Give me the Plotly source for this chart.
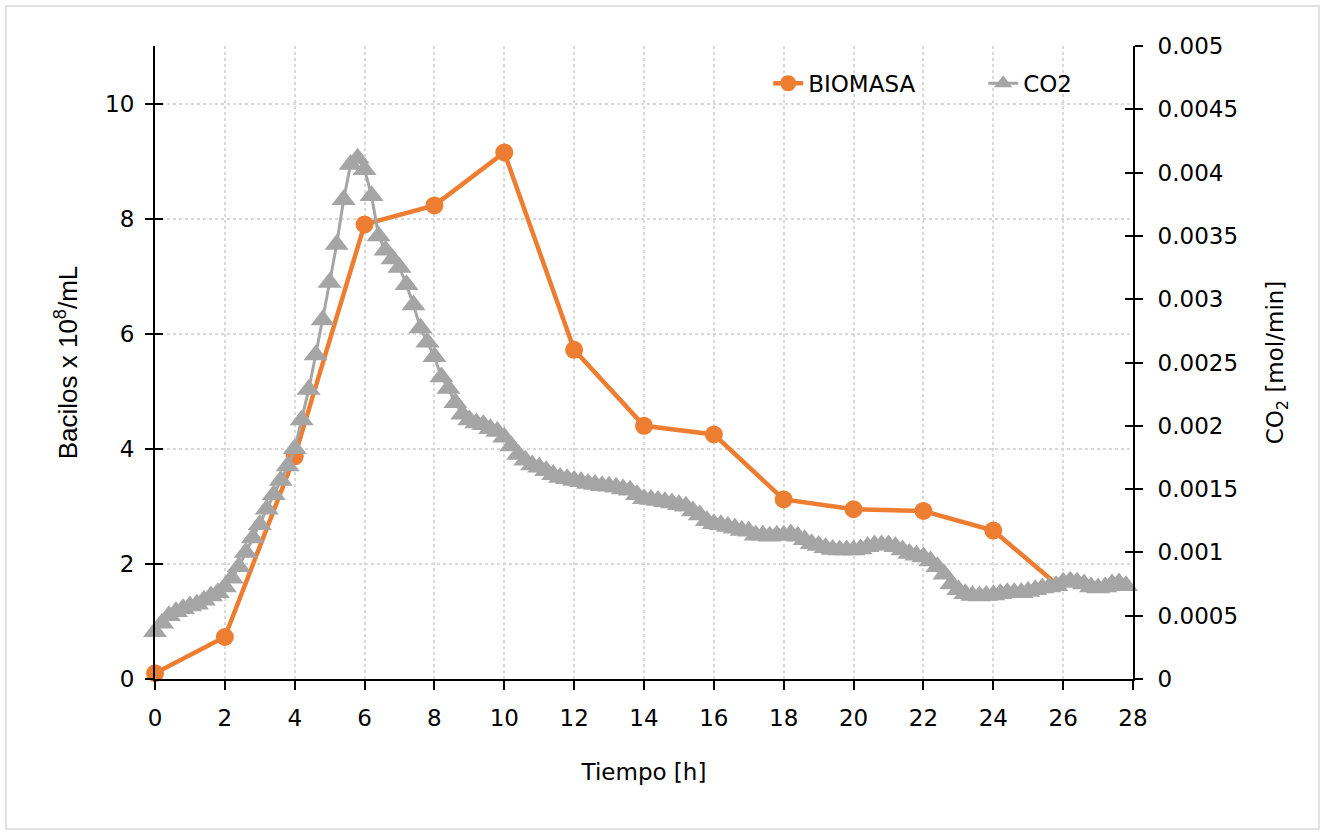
import numpy as np
import plotly.graph_objects as go

# Biomass samples (bacilli x 10^8 per mL)
biomasa_t = [0, 2, 4, 6, 8, 10, 12, 14, 16, 18, 20, 22, 24, 26]
biomasa = [0.10, 0.73, 3.87, 7.90, 8.23, 9.15, 5.72, 4.40, 4.25, 3.12, 2.95, 2.92, 2.58, 1.55]

# CO2 evolution rate (mol/min), logged every 0.2 h
co2_t = np.round(np.arange(0, 27.9, 0.2), 1)
co2 = [
    0.000373, 0.000441, 0.000500, 0.000532, 0.000555,   # 0 h
    0.000577, 0.000591, 0.000623, 0.000655, 0.000682,   # 1 h
    0.000727, 0.000795, 0.000886, 0.001000, 0.001114,   # 2 h
    0.001218, 0.001341, 0.001455, 0.001568, 0.001682,   # 3 h
    0.001818, 0.002045, 0.002286, 0.002559, 0.002836,   # 4 h
    0.003132, 0.003432, 0.003786, 0.004064, 0.004114,   # 5 h
    0.004023, 0.003818, 0.003500, 0.003386, 0.003318,   # 6 h
    0.003250, 0.003114, 0.002955, 0.002773, 0.002659,   # 7 h
    0.002545, 0.002386, 0.002295, 0.002182, 0.002091,   # 8 h
    0.002045, 0.002023, 0.002009, 0.001977, 0.001955,   # 9 h
    0.001909, 0.001841, 0.001773, 0.001727, 0.001691,   # 10 h
    0.001673, 0.001645, 0.001614, 0.001591, 0.001582,   # 11 h
    0.001568, 0.001559, 0.001545, 0.001536, 0.001527,   # 12 h
    0.001523, 0.001514, 0.001500, 0.001491, 0.001455,   # 13 h
    0.001423, 0.001418, 0.001409, 0.001400, 0.001391,   # 14 h
    0.001377, 0.001364, 0.001327, 0.001295, 0.001250,   # 15 h
    0.001227, 0.001218, 0.001205, 0.001191, 0.001173,   # 16 h
    0.001168, 0.001136, 0.001136, 0.001127, 0.001136,   # 17 h
    0.001136, 0.001145, 0.001127, 0.001100, 0.001068,   # 18 h
    0.001055, 0.001036, 0.001023, 0.001018, 0.001018,   # 19 h
    0.001018, 0.001027, 0.001045, 0.001059, 0.001059,   # 20 h
    0.001059, 0.001045, 0.001018, 0.000991, 0.000977,   # 21 h
    0.000964, 0.000932, 0.000886, 0.000827, 0.000750,   # 22 h
    0.000705, 0.000673, 0.000659, 0.000655, 0.000659,   # 23 h
    0.000664, 0.000673, 0.000682, 0.000682, 0.000682,   # 24 h
    0.000691, 0.000705, 0.000718, 0.000727, 0.000736,   # 25 h
    0.000764, 0.000773, 0.000764, 0.000750, 0.000727,   # 26 h
    0.000718, 0.000727, 0.000750, 0.000759, 0.000736,   # 27 h
]

x_ticks = list(range(0, 29, 2))
y_left_ticks = [0, 2, 4, 6, 8, 10]
y_right_ticks = [0, 0.0005, 0.001, 0.0015, 0.002, 0.0025, 0.003, 0.0035, 0.004, 0.0045, 0.005]
y_right_labels = ["0", "0.0005", "0.001", "0.0015", "0.002", "0.0025",
                  "0.003", "0.0035", "0.004", "0.0045", "0.005"]

ORANGE = "#ED7D31"
GRAY = "#A5A5A5"
FONT = "DejaVu Sans"
GRID = "#D9D9D9"

fig = go.Figure()

fig.add_trace(go.Scatter(
    x=co2_t, y=co2, name="CO2", yaxis="y2", mode="lines+markers",
    line=dict(color=GRAY, width=3),
    marker=dict(symbol="triangle-up", size=21, color=GRAY, opacity=1, line=dict(width=0)),
    cliponaxis=False,
))

# last biomass sample is drawn without a dot
bio_sizes = [18] * (len(biomasa) - 1) + [0]
fig.add_trace(go.Scatter(
    x=biomasa_t, y=biomasa, name="BIOMASA", yaxis="y", mode="lines+markers",
    line=dict(color=ORANGE, width=4.5),
    marker=dict(symbol="circle", size=bio_sizes, color=ORANGE, opacity=1, line=dict(width=0)),
    cliponaxis=False,
))

# hidden copies that carry the inner halves of the crossing tick marks
fig.add_trace(go.Scatter(x=biomasa_t, y=biomasa, yaxis="y3", mode="lines",
                         opacity=0, showlegend=False, hoverinfo="skip"))
fig.add_trace(go.Scatter(x=co2_t, y=co2, yaxis="y4", mode="lines",
                         opacity=0, showlegend=False, hoverinfo="skip"))

axis_font = dict(family=FONT, size=23, color="#000000")

fig.update_layout(
    width=1325, height=835,
    margin=dict(l=155, r=192, t=46, b=156),
    paper_bgcolor="white", plot_bgcolor="white",
    font=axis_font,
    showlegend=True,
    legend=dict(orientation="h", x=0.627, y=0.975, xanchor="left", yanchor="top",
                bgcolor="rgba(0,0,0,0)", font=dict(family=FONT, size=23),
                traceorder="reversed", entrywidth=170),
    xaxis=dict(
        range=[0, 28], tickvals=x_ticks, ticks="outside", ticklen=9, tickwidth=2,
        tickcolor="black", showline=True, linecolor="black", linewidth=2,
        showgrid=True, gridcolor=GRID, griddash="dot", gridwidth=1.5,
        zeroline=False, tickfont=axis_font, ticklabelstandoff=8,
        title=dict(text="Tiempo [h]", font=axis_font, standoff=34),
    ),
    yaxis=dict(
        range=[0, 11], tickvals=y_left_ticks, ticks="outside", ticklen=8, tickwidth=2,
        tickcolor="black", showline=True, linecolor="black", linewidth=2,
        showgrid=True, gridcolor=GRID, griddash="dot", gridwidth=1.5,
        zeroline=False, tickfont=axis_font, ticklabelstandoff=6,
        title=dict(text="Bacilos x 10<sup>8</sup>/mL",
                   font=dict(family="Liberation Sans", size=26, color="black"),
                   standoff=20),
    ),
    yaxis2=dict(
        range=[0, 0.005], tickvals=y_right_ticks, ticktext=y_right_labels,
        overlaying="y", side="right", anchor="x",
        ticks="outside", ticklen=8, tickwidth=2, tickcolor="black",
        showline=True, linecolor="black", linewidth=2, showgrid=False, zeroline=False,
        tickfont=axis_font, ticklabelstandoff=10,
        title=dict(text="CO<sub>2</sub> [mol/min]", font=axis_font, standoff=30),
    ),
    yaxis3=dict(
        range=[0, 11], tickvals=y_left_ticks, overlaying="y", side="left", anchor="x",
        ticks="inside", ticklen=8, tickwidth=2, tickcolor="black",
        showticklabels=False, showgrid=False, showline=False, zeroline=False,
    ),
    yaxis4=dict(
        range=[0, 0.005], tickvals=y_right_ticks, overlaying="y", side="right", anchor="x",
        ticks="inside", ticklen=8, tickwidth=2, tickcolor="black",
        showticklabels=False, showgrid=False, showline=False, zeroline=False,
    ),
)

# chart-area frame
fig.add_shape(type="rect", xref="paper", yref="paper",
              x0=(6 - 155) / 978, x1=(1319 - 155) / 978,
              y0=(679 - 829) / 633, y1=(679 - 6) / 633,
              line=dict(color="#D9D9D9", width=1.5), fillcolor="rgba(0,0,0,0)", layer="below")

fig.write_html("out.html")
